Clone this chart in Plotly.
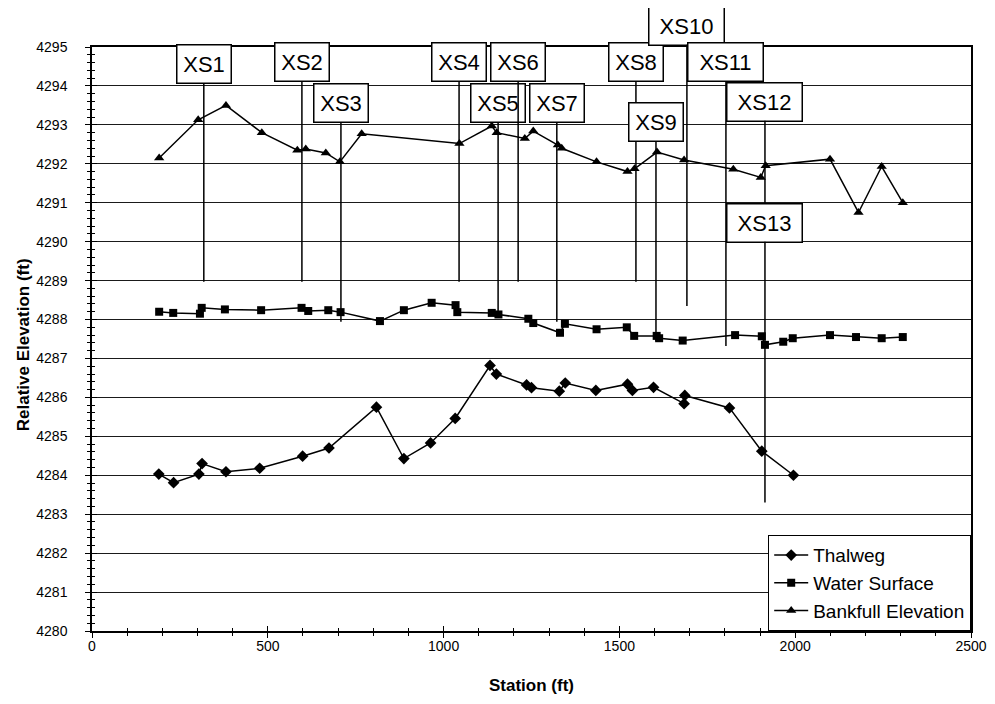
import plotly.graph_objects as go

# ---------------- data ----------------
thalweg_station = [190, 232, 304, 313, 381, 477, 599, 674, 809, 887, 963, 1033, 1132, 1150,
                   1236, 1250, 1329, 1346, 1433, 1523, 1537, 1597, 1684, 1686, 1813, 1905, 1995]
thalweg_elev = [4284.03, 4283.81, 4284.03, 4284.30, 4284.09, 4284.18, 4284.49, 4284.70, 4285.75,
                4284.43, 4284.83, 4285.46, 4286.82, 4286.60, 4286.32, 4286.25, 4286.16, 4286.37,
                4286.18, 4286.34, 4286.18, 4286.26, 4285.84, 4286.05, 4285.73, 4284.62, 4284.00]

water_station = [191, 231, 307, 312, 378, 481, 596, 615, 672, 707, 819, 887, 966, 1034, 1039,
                 1137, 1156, 1241, 1255, 1331, 1345, 1435, 1521, 1542, 1606, 1613, 1680, 1829,
                 1905, 1914, 1966, 1993, 2099, 2173, 2246, 2306]
water_elev = [4288.20, 4288.17, 4288.15, 4288.30, 4288.26, 4288.24, 4288.30, 4288.22, 4288.24,
              4288.19, 4287.96, 4288.24, 4288.43, 4288.37, 4288.19, 4288.17, 4288.13, 4288.02,
              4287.91, 4287.66, 4287.89, 4287.75, 4287.80, 4287.58, 4287.58, 4287.52, 4287.46,
              4287.60, 4287.57, 4287.35, 4287.43, 4287.52, 4287.60, 4287.55, 4287.52, 4287.55]

bankfull_station = [191, 302, 381, 483, 584, 608, 665, 705, 767, 1045, 1137, 1151, 1231, 1255,
                    1325, 1336, 1435, 1523, 1543, 1607, 1684, 1824, 1902, 1916, 2099, 2180, 2246, 2306]
bankfull_elev = [4292.15, 4293.13, 4293.50, 4292.80, 4292.35, 4292.38, 4292.28, 4292.05, 4292.77,
                 4292.52, 4292.97, 4292.80, 4292.65, 4292.84, 4292.48, 4292.40, 4292.05, 4291.80,
                 4291.87, 4292.30, 4292.10, 4291.86, 4291.65, 4291.95, 4292.12, 4290.75, 4291.93, 4291.00]

# cross-section callouts
xs_labels = ["XS1", "XS2", "XS3", "XS4", "XS5", "XS6", "XS7", "XS8", "XS9", "XS10",
             "XS11", "XS12", "XS13"]
xs_station = [318, 597, 708, 1044, 1155, 1212, 1322, 1547, 1604, 1692, 1803, 1914, 1914]
xs_box_elev = [4294.57, 4294.61, 4293.57, 4294.61, 4293.57, 4294.61, 4293.57, 4294.61,
               4293.08, 4295.55, 4294.61, 4293.60, 4290.49]
xs_pointer_elev = [4288.97, 4288.97, 4287.94, 4288.97, 4288.09, 4288.97, 4287.94, 4288.97,
                   4287.45, 4288.35, 4287.32, 4290.98, 4283.30]

x_ticks = [0, 500, 1000, 1500, 2000, 2500]
y_ticks = list(range(4280, 4296))

FONT = "Arial, 'Liberation Sans', sans-serif"

fig = go.Figure()

line_style = dict(color="black", width=1.5)
fig.add_trace(go.Scatter(x=thalweg_station, y=thalweg_elev, mode="lines+markers",
                         name="Thalweg", line=line_style,
                         marker=dict(symbol="diamond", size=9, color="black")))
fig.add_trace(go.Scatter(x=water_station, y=water_elev, mode="lines+markers",
                         name="Water Surface", line=line_style,
                         marker=dict(symbol="square", size=8, color="black")))
fig.add_trace(go.Scatter(x=bankfull_station, y=bankfull_elev, mode="lines+markers",
                         name="Bankfull Elevation", line=line_style,
                         marker=dict(symbol="triangle-up", size=9, color="black")))
# dummy trace for overlay axes (inside ticks -> crossing tick marks)
fig.add_trace(go.Scatter(x=[None], y=[None], xaxis="x2", yaxis="y2",
                         showlegend=False, hoverinfo="skip"))

annotations = []
for lab, st, be, pe in zip(xs_labels, xs_station, xs_box_elev, xs_pointer_elev):
    w = 51 if len(lab) == 3 else 72
    annotations.append(dict(
        x=st, y=pe, xref="x", yref="y",
        ax=st, ay=be, axref="x", ayref="y",
        text=lab, showarrow=True, arrowhead=0, arrowwidth=1.5, arrowcolor="black",
        standoff=0, startstandoff=0,
        font=dict(family=FONT, size=22, color="black"),
        bgcolor="white", bordercolor="black", borderwidth=1.5, borderpad=1,
        width=w, height=35, align="center", valign="middle",
    ))

# axis titles (placed as paper-referenced text)
annotations.append(dict(text="<b>Relative Elevation (ft)</b>", xref="paper", yref="paper",
                        x=-0.078, y=0.49, xanchor="center", yanchor="middle", textangle=-90,
                        showarrow=False, font=dict(size=17, family=FONT, color="black")))
annotations.append(dict(text="<b>Station (ft)</b>", xref="paper", yref="paper",
                        x=0.5, y=-0.093, xanchor="center", yanchor="middle",
                        showarrow=False, font=dict(size=17, family=FONT, color="black")))

axis_common = dict(showline=True, linecolor="black", linewidth=1.5, mirror=True,
                   tickcolor="black", zeroline=False, automargin=False)

# page body has an 8px default margin, so the figure is sized/margined to compensate
fig.update_layout(
    width=987, height=696,
    margin=dict(l=84, r=24, t=39, b=73),
    paper_bgcolor="white", plot_bgcolor="white",
    font=dict(family=FONT, color="black", size=14),
    annotations=annotations,
    xaxis=dict(range=[0, 2500], tickvals=x_ticks, ticks="outside", ticklen=5, tickwidth=1,
               showgrid=False,
               minor=dict(dtick=100, ticks="outside", ticklen=3, tickcolor="black", showgrid=False),
               tickfont=dict(size=14, family=FONT), ticklabelstandoff=-4,
               **axis_common),
    yaxis=dict(range=[4280, 4295], tickvals=y_ticks, ticks="outside", ticklen=5, tickwidth=1,
               showgrid=True, gridcolor="#1a1a1a", gridwidth=1,
               minor=dict(dtick=0.2, ticks="outside", ticklen=3, tickcolor="black", showgrid=False),
               tickfont=dict(size=14, family=FONT), ticklabelstandoff=15,
               **axis_common),
    xaxis2=dict(overlaying="x", range=[0, 2500], tickvals=x_ticks, ticks="inside", ticklen=5,
                showticklabels=False, showgrid=False, showline=False, zeroline=False,
                tickcolor="black",
                minor=dict(dtick=100, ticks="inside", ticklen=3, tickcolor="black")),
    yaxis2=dict(overlaying="y", range=[4280, 4295], tickvals=y_ticks, ticks="inside", ticklen=5,
                showticklabels=False, showgrid=False, showline=False, zeroline=False,
                tickcolor="black",
                minor=dict(dtick=0.2, ticks="inside", ticklen=3, tickcolor="black")),
    legend=dict(x=1, y=0, xanchor="right", yanchor="bottom", bgcolor="white",
                bordercolor="black", borderwidth=1.2, font=dict(size=19, family=FONT),
                tracegroupgap=0, itemwidth=34),
    showlegend=True,
)

fig.write_html("out.html")
